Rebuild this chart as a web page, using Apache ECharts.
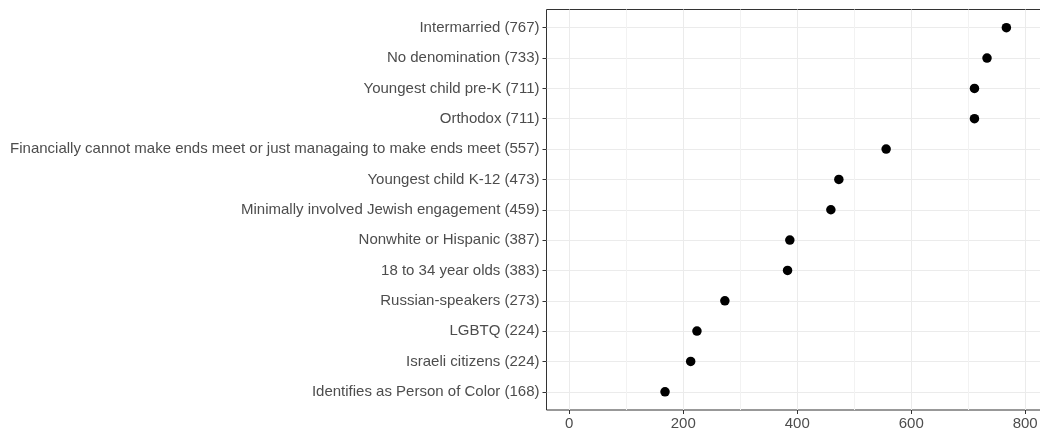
<!DOCTYPE html>
<html><head><meta charset="utf-8">
<script src="https://cdn.jsdelivr.net/npm/echarts@6/dist/echarts.min.js"></script>
<style>html,body{margin:0;padding:0;background:#fff;overflow:hidden;}#c{width:1040px;height:429px;}</style>
</head><body><div id="c"></div>
<script>
// top to bottom
const categories = [
  "Intermarried (767)",
  "No denomination (733)",
  "Youngest child pre-K (711)",
  "Orthodox (711)",
  "Financially cannot make ends meet or just managaing to make ends meet (557)",
  "Youngest child K-12 (473)",
  "Minimally involved Jewish engagement (459)",
  "Nonwhite or Hispanic (387)",
  "18 to 34 year olds (383)",
  "Russian-speakers (273)",
  "LGBTQ (224)",
  "Israeli citizens (224)",
  "Identifies as Person of Color (168)"
];
const values = [767, 733, 711, 711, 556, 473, 459, 387, 383, 273, 224, 213, 168];
const xTicks = [0, 200, 400, 600, 800];
const xMinor = [100, 300, 500, 700];

const idx = categories.map((_, i) => i);
const chart = echarts.init(document.getElementById('c'));
const font = 'Liberation Sans, Arial, sans-serif';
chart.setOption({
  animation: false,
  grid: { left: 546.5, top: 9.5, right: -2, bottom: 19, show: true, borderColor: '#333333', borderWidth: 1,
    backgroundColor: 'transparent', outerBoundsMode: 'none', containLabel: false },
  xAxis: [{
    type: 'value', min: -40, max: 829.5, position: 'bottom',
    axisLine: { show: false, onZero: false },
    axisTick: { show: true, length: 4, lineStyle: { color: '#333333' }, customValues: xTicks },
    axisLabel: { color: '#4D4D4D', fontSize: 15, fontFamily: font, margin: 6, customValues: xTicks },
    splitLine: { show: true, lineStyle: { color: '#EBEBEB', width: 1 } }
  }, {
    type: 'value', min: -40, max: 829.5, position: 'bottom',
    axisLine: { show: false, onZero: false },
    axisTick: { show: false, customValues: xMinor },
    axisLabel: { show: false, customValues: xMinor },
    splitLine: { show: true, lineStyle: { color: '#F2F2F2', width: 1 } }
  }],
  yAxis: {
    type: 'value', min: -0.6, max: 12.6, inverse: true,
    axisLine: { show: false, onZero: false },
    axisTick: { show: true, length: 4, lineStyle: { color: '#333333' }, customValues: idx },
    axisLabel: { color: '#4D4D4D', fontSize: 15, fontFamily: font, margin: 7, customValues: idx,
      formatter: v => categories[Math.round(v)] },
    splitLine: { show: true, lineStyle: { color: '#EBEBEB', width: 1 } }
  },
  series: [{
    type: 'scatter', xAxisIndex: 0, symbolSize: 9.5,
    itemStyle: { color: '#000000', opacity: 1 },
    data: values.map((v, i) => [v, i]),
    z: 5
  }]
});
</script></body></html>
